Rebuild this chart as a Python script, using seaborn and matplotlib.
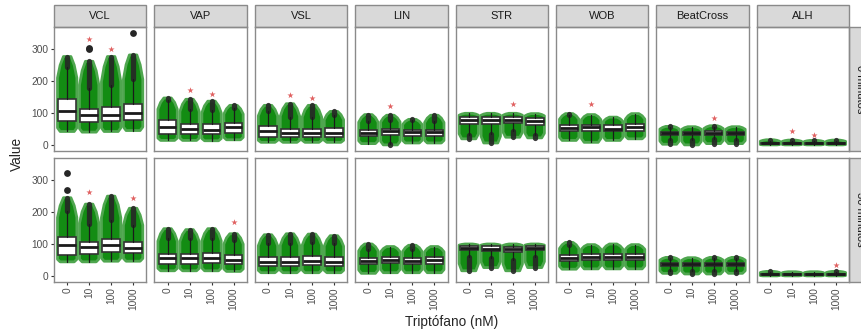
import numpy as np
import matplotlib
matplotlib.use("Agg")
import seaborn as sns
from matplotlib import pyplot as plt
from matplotlib.patches import Polygon, Rectangle

# categories
metrics = ["VCL", "VAP", "VSL", "LIN", "STR", "WOB", "BeatCross", "ALH"]
tiempos = ["0 minutos", "30 minutos"]
dosis = ["0", "10", "100", "1000"]

# [row "0 minutos", row "30 minutos"], one value per dose
lo = {
    "VCL": [[42, 40, 42, 45], [44, 44, 46, 46]],
    "VAP": [[14, 14, 13, 16], [16, 16, 16, 14]],
    "VSL": [[8, 8, 8, 8], [10, 10, 10, 10]],
    "LIN": [[4, 0, 6, 6], [8, 10, 10, 10]],
    "STR": [[19, 6, 24, 22], [16, 26, 16, 26]],
    "WOB": [[14, 8, 14, 19], [21, 22, 22, 22]],
    "BeatCross": [[2, 0, 4, 4], [8, 6, 6, 8]],
    "ALH": [[0, 0, 0, 0], [0, 0, 0, 0]],
}
q1 = {
    "VCL": [[75, 72, 74, 77], [67, 69, 74, 71]],
    "VAP": [[35, 35, 33, 38], [38, 38, 41, 36]],
    "VSL": [[26, 26, 26, 26], [31, 31, 33, 31]],
    "LIN": [[29, 32, 29, 29], [38, 39, 38, 38]],
    "STR": [[64, 66, 69, 63], [80, 78, 75, 80]],
    "WOB": [[42, 42, 42, 42], [47, 50, 49, 49]],
    "BeatCross": [[31, 31, 32, 31], [31, 31, 31, 31]],
    "ALH": [[3, 3, 3, 3], [3, 3, 3, 3]],
}
med = {
    "VCL": [[106, 93, 93, 101], [96, 90, 96, 88]],
    "VAP": [[56, 51, 48, 56], [55, 55, 57, 49]],
    "VSL": [[42, 38, 38, 38], [44, 44, 47, 44]],
    "LIN": [[38, 42, 40, 40], [47, 50, 47, 49]],
    "STR": [[77, 77, 79, 74], [86, 85, 83, 88]],
    "WOB": [[53, 56, 51, 56], [57, 60, 60, 60]],
    "BeatCross": [[36, 36, 37, 36], [36, 36, 36, 36]],
    "ALH": [[5, 5, 5, 5], [5, 5, 5, 5]],
}
q3 = {
    "VCL": [[143, 114, 119, 129], [121, 106, 115, 106]],
    "VAP": [[77, 66, 64, 69], [70, 70, 72, 67]],
    "VSL": [[58, 51, 51, 53], [60, 60, 62, 60]],
    "LIN": [[47, 51, 48, 47], [57, 59, 57, 59]],
    "STR": [[87, 87, 87, 84], [93, 93, 91, 93]],
    "WOB": [[63, 63, 61, 64], [67, 70, 69, 69]],
    "BeatCross": [[41, 41, 42, 41], [41, 41, 41, 41]],
    "ALH": [[7, 7, 7, 7], [7, 7, 7, 7]],
}
hi = {
    "VCL": [[277, 262, 277, 282], [245, 225, 250, 212]],
    "VAP": [[147, 143, 137, 124], [148, 145, 148, 132]],
    "VSL": [[124, 129, 124, 105], [129, 132, 131, 126]],
    "LIN": [[95, 93, 80, 93], [100, 92, 96, 92]],
    "STR": [[99, 99, 99, 98], [100, 100, 100, 100]],
    "WOB": [[98, 95, 87, 98], [105, 98, 100, 98]],
    "BeatCross": [[58, 57, 60, 57], [58, 57, 58, 58]],
    "ALH": [[16, 15, 14, 15], [14, 13, 13, 14]],
}
# isolated outliers far from the rest
extra = {
    ("VCL", 0): [[], [300, 305], [], [352]],
    ("VCL", 1): [[268, 322], [], [], []],
}
# red asterisks (y position), None = no mark
star = {
    "VCL": [[None, 333, 300, None], [None, 262, None, 243]],
    "VAP": [[None, 172, 159, None], [None, None, None, 168]],
    "VSL": [[None, 156, 147, None], [None, None, None, None]],
    "LIN": [[None, 122, None, None], [None, None, None, None]],
    "STR": [[None, None, 127, None], [None, None, None, None]],
    "WOB": [[None, 129, None, None], [None, None, None, None]],
    "BeatCross": [[None, None, 84, None], [None, None, None, None]],
    "ALH": [[None, 42, 31, None], [None, None, None, 33]],
}

sns.set_theme(style="ticks")
plt.rcParams["font.family"] = ["Liberation Sans", "DejaVu Sans"]

W, H = 861, 333
fig = plt.figure(figsize=(W / 100, H / 100), dpi=100)

green = "#138c13"
green_edge = "#4fa64f"
dark = "#262626"
border = "#8a8a8a"

left, pw, pitch = 54, 92.3, 100.4
row_top = [27, 158]
ph = 123.5
strip_h = 22

for r, tiempo in enumerate(tiempos):
    for c, m in enumerate(metrics):
        x0 = left + c * pitch
        y0 = row_top[r]
        ax = fig.add_axes([x0 / W, 1 - (y0 + ph) / H, pw / W, ph / H])
        ax.set_xlim(-0.6, 3.6)
        ax.set_ylim(-17.6, 369.6)

        stats = []
        for i in range(4):
            l, a, md, b, h = lo[m][r][i], q1[m][r][i], med[m][r][i], q3[m][r][i], hi[m][r][i]
            iqr = b - a
            f_lo, f_hi = a - 1.5 * iqr, b + 1.5 * iqr
            # outline of the jittered cloud
            y1 = l + 0.35 * (a - l)
            yb = b + 0.5 * (h - b)
            yc = b + 0.8 * (h - b)
            half = [(l, 0.32), (y1, 0.44), (yb, 0.44), (yc, 0.32), (h, 0.17)]
            shape = [(i - w, y) for y, w in half] + [(i + w, y) for y, w in half[::-1]]
            ax.add_patch(Polygon(shape, closed=True, fc=green, ec=green_edge, lw=2,
                                 joinstyle="round", zorder=1))
            if h > f_hi:
                ax.plot([i, i], [f_hi, h], color=dark, lw=3.8, solid_capstyle="round",
                        alpha=0.9, zorder=1.5)
            if l < f_lo:
                ax.plot([i, i], [l, f_lo], color=dark, lw=3.8, solid_capstyle="round",
                        alpha=0.9, zorder=1.5)
            stats.append(dict(med=md, q1=a, q3=b, whislo=max(l, f_lo),
                              whishi=min(h, f_hi), fliers=[]))

            pts = extra.get((m, r), [[], [], [], []])[i]
            if pts:
                sns.scatterplot(x=[i] * len(pts), y=pts, color=dark, s=24,
                                linewidth=0, ax=ax, zorder=3)
            sy = star[m][r][i]
            if sy is not None:
                sns.scatterplot(x=[i], y=[sy], color="#e06060", marker="*", s=22,
                                linewidth=0, ax=ax, zorder=3)

        ax.bxp(stats, positions=np.arange(4), widths=0.8, showfliers=False,
               showcaps=False, patch_artist=True,
               boxprops=dict(facecolor="white", edgecolor="#333333", linewidth=1.2),
               medianprops=dict(color="#1a1a1a", linewidth=2.0),
               whiskerprops=dict(color="#1a1a1a", linewidth=0.9))

        for s in ax.spines.values():
            s.set_color(border)
            s.set_linewidth(1.0)

        ax.set_yticks([0, 100, 200, 300])
        ax.set_xticks(np.arange(4))
        ax.tick_params(axis="both", length=2.5, width=0.8, color="#333333",
                       labelsize=7.3, labelcolor="#4d4d4d", pad=1.5)
        if c == 0:
            ax.set_yticklabels(["0", "100", "200", "300"])
        else:
            ax.tick_params(axis="y", left=False, labelleft=False)
        if r == 1:
            ax.set_xticklabels(dosis, rotation=90, va="top")
        else:
            ax.tick_params(axis="x", bottom=False, labelbottom=False)
        ax.set_xlabel("")
        ax.set_ylabel("")

        if r == 0:
            sh = strip_h / ph
            ax.add_patch(Rectangle((0, 1), 1, sh, transform=ax.transAxes, fc="#d9d9d9",
                                   ec=border, lw=1.0, clip_on=False))
            ax.text(0.5, 1 + sh / 2, m, transform=ax.transAxes, ha="center",
                    va="center", fontsize=8, color="#1a1a1a")
        if c == len(metrics) - 1:
            # the reference is cropped through this strip
            sw = strip_h / pw
            ax.add_patch(Rectangle((1, 0), sw, 1, transform=ax.transAxes, fc="#d9d9d9",
                                   ec=border, lw=1.0, clip_on=False))
            ax.text(1 + sw / 2, 0.5, tiempo, transform=ax.transAxes, ha="center",
                    va="center", rotation=-90, fontsize=8, color="#1a1a1a")

fig.text(17 / W, 1 - 154 / H, "Value", rotation=90, ha="center", va="center", fontsize=9.8)
fig.text(451.5 / W, 1 - 322 / H, "Triptófano (nM)", ha="center", va="center", fontsize=9.8)

fig.savefig("out.png", dpi=100)
